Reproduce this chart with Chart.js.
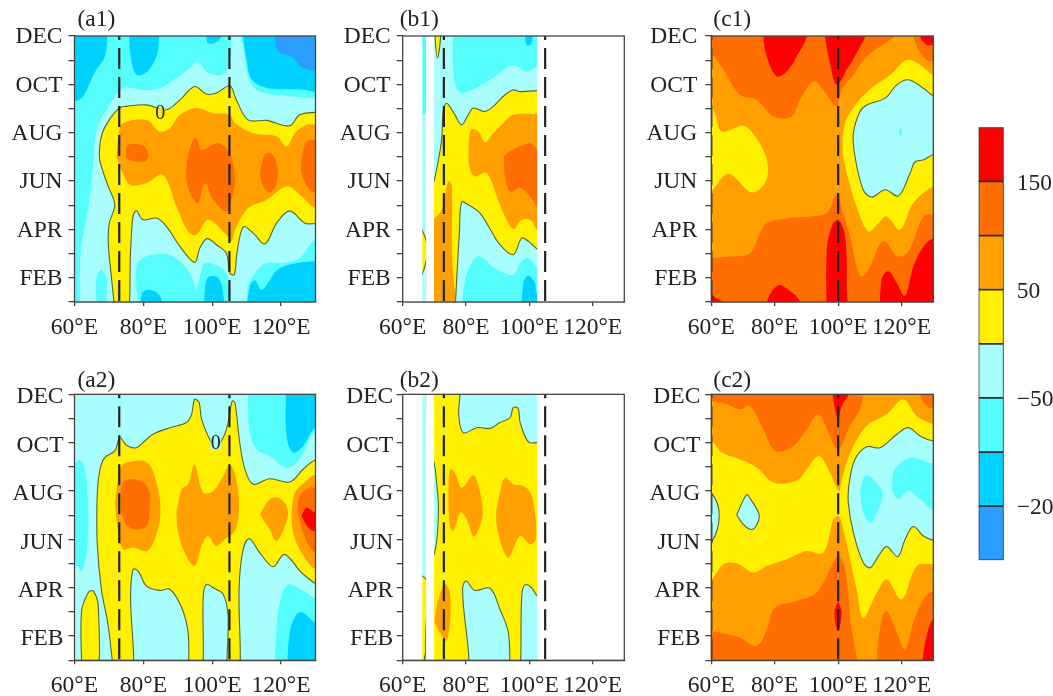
<!DOCTYPE html>
<html>
<head>
<meta charset="utf-8">
<title>Six contour panels</title>
<script src="https://cdn.jsdelivr.net/npm/chart.js@4/dist/chart.umd.min.js"></script>
<style>
    html, body { margin: 0; padding: 0; background: #fff; }
    #page { position: relative; width: 1053px; height: 696px; overflow: hidden; }
    canvas { position: absolute; }
</style>
</head>
<body>
<div id="page"></div>
<script>
// axis values
const monthNames = ['JAN', 'FEB', 'MAR', 'APR', 'MAY', 'JUN', 'JUL', 'AUG', 'SEP', 'OCT', 'NOV', 'DEC']
const shownMonths = ['FEB', 'APR', 'JUN', 'AUG', 'OCT', 'DEC']
const lonTicks = [60, 80, 100, 120]

// lower edge of each contour band, and the colour bar's labelled values
const bandLevels = [-200, -150, -100, -50, 0, 50, 100, 150]
const bandColors = ['#2a9dff', '#00d2ff', '#55fdfd', '#a8fdfd', '#fff000', '#ffa000', '#ff6e00', '#ff0000']
const colorbarLabels = { 150: '150', 50: '50', '-50': '−50', '-150': '−20' }

// contour outlines as [longitude, month], painted in order: [band, outline, isZeroContour]
const a1Base = -100
const a1Layers = [
    [-150, [[55,13],[69.5,13],[69.5,12],[68.8,11.15],[65.9,10.5],[62.5,9.5],[60,9.3],[55,9.3]]],
    [-150, [[75.8,13],[75.9,12],[76.3,11.15],[78,10.4],[80.9,10.5],[83.8,11.15],[84.6,12],[84.6,13]]],
    [-150, [[98.3,13],[98.5,11.75],[100.5,11.7],[102.7,12],[102.8,13]]],
    [-150, [[109,13],[109,12],[110,11],[111.5,10.2],[116,9.85],[125,9.8],[135,9.8],[135,13]]],
    [-200, [[118.2,13],[118.2,12],[119,11.4],[123.5,11.1],[126.4,10.67],[135,10.67],[135,13]]],
    [-150, [[79.4,0],[79.6,1.35],[82,1.5],[85,1.2],[86,0]]],
    [-150, [[97.4,0],[98.1,1.8],[99.3,2.06],[101.7,2],[103,1.5],[103.4,0]]],
    [-150, [[109.5,0],[110.9,1.65],[112.4,1.9],[114.3,1.5],[116.7,1.9],[118.7,2.3],[122.5,2.55],[130,2.68],[135,2.7],[135,0]]],
    [-50, [[61.5,0],[61.8,3.02],[64,4.95],[65.4,6.6],[66.4,8.12],[69.3,8.95],[74.1,9.84],[79.9,9.77],[84.8,9.84],[89.6,10.26],[93.5,10.67],[95.9,10.95],[98.3,10.53],[102.7,10.39],[105.1,10.88],[105.6,12],[105.6,13],[108.5,13],[108.5,12],[109.5,11.15],[110.4,10.33],[112.9,9.77],[118.7,9.57],[130,9.43],[135,9.4],[135,3.6],[130,3.58],[125.4,2.82],[120.6,2.61],[115.8,2.61],[113.3,2.34],[110.4,1.65],[109.5,0],[105.6,0],[105.3,1.65],[103.7,2.27],[100.8,2.54],[97.9,2.61],[96.4,2.06],[95.4,1.51],[94,2.06],[91.1,2.61],[87.2,2.96],[83.3,2.96],[79.9,2.82],[78,2.47],[77.5,0],[69.8,0],[69.3,1.92],[67.8,2.34],[66.4,2.06],[65.9,0]]],
    [0, [[72.2,0],[70.7,2.06],[69.8,3.44],[70.1,4.26],[71.7,5.02],[69.8,5.78],[67.8,6.6],[67.2,7.02],[67.8,7.85],[69.8,8.47],[73,9.02],[75.1,9.09],[80.9,9.15],[86.7,8.95],[90.6,9.36],[94.9,9.91],[98.3,9.6],[101.2,9.64],[105.1,9.94],[107,9.36],[110.4,8.53],[115.8,8.51],[122.5,8.29],[125.4,8.74],[130,8.84],[135,8.85],[135,4.2],[130,4.24],[126.9,4.26],[122.5,4.77],[118.7,4.26],[115.3,3.4],[111.9,3.85],[109,4.1],[107.2,3.02],[106.4,2.13],[105.1,2.2],[104.1,3.02],[101.2,3.37],[98.5,3.62],[96.4,3.23],[94.9,2.64],[90.6,3.3],[86.7,4.13],[83.8,4.47],[79.9,4.4],[78,4.77],[77,4.54],[76.3,3.16],[75.3,0]], true],
    [50, [[72.2,7.02],[73,8.12],[74.1,8.4],[80.9,8.53],[84.8,8.05],[87.7,8.19],[90.6,8.74],[95.4,9.02],[100.3,8.81],[105.1,8.74],[106.6,8.4],[111.9,7.98],[118.7,7.85],[121.6,7.43],[124,7.98],[127.4,8.33],[130,8.33],[135,8.33],[135,4.85],[130,4.88],[125.4,5.44],[121.6,5.78],[115.8,5.23],[110.4,4.88],[106.6,3.99],[105.6,3.51],[104.1,3.78],[98.8,4.4],[95.4,3.78],[93,3.92],[89.6,4.95],[85.7,6.26],[80.9,5.92],[76.1,5.85],[73.6,6.47]]],
    [100, [[74.9,7.02],[75.6,7.5],[79.9,7.46],[81.4,7.09],[80.4,6.81],[75.6,6.88]]],
    [100, [[92.5,6.74],[94,7.57],[95.4,7.78],[96.9,7.29],[101.7,7.57],[105.1,7.16],[106.6,6.05],[105.6,5.23],[104.1,4.75],[100.3,5.23],[97.9,5.92],[95.9,5.09],[94,5.37],[92.5,6.05]]],
    [100, [[113.8,6.33],[115.3,7.09],[117.2,7.16],[118.9,6.6],[118.7,5.92],[116.7,5.53],[114.8,5.78]]],
    [100, [[125.9,6.88],[127.4,7.64],[130,7.7],[135,7.7],[135,5.5],[130,5.5],[127.9,5.71],[125.9,6.33]]]
]

const a2Base = -50
const a2Layers = [
    [-100, [[55,9.1],[60,9.15],[61.5,9.28],[63,8.9],[64,7.1],[63.5,5.45],[62,4.69],[60.6,4.9],[55,4.9]]],
    [-100, [[110.4,13],[110.4,12],[110.9,10.41],[112.9,9.73],[116.7,9.45],[121.6,8.97],[125.4,9.31],[130,10.48],[135,10.5],[135,13]]],
    [-150, [[121.4,13],[121.4,12],[121.6,10.28],[123.5,9.59],[126.4,9.86],[130,10.62],[135,10.6],[135,13]]],
    [-100, [[118.2,0],[118.7,2.42],[120.4,3.8],[122.5,4.14],[130,3.59],[135,3.55],[135,0]]],
    [-150, [[121.6,0],[122.5,2.14],[124.5,2.9],[126.4,2.97],[130,2.56],[135,2.5],[135,0]]],
    [0, [[71.7,0],[69.8,2.42],[67.8,3.94],[66.6,5.87],[66.6,7.8],[67.4,8.9],[68.8,9.38],[71.7,9.66],[73.2,10.21],[75.1,9.89],[78,9.79],[80.4,10.07],[82.8,10.35],[87.7,10.62],[92.5,10.83],[94,11.17],[94.9,11.79],[96.2,11.65],[96.9,10.97],[98.8,10.28],[101,9.8],[103.4,10.28],[104.6,10.83],[105.8,11.72],[106.6,11.65],[108,10],[109.5,8.9],[111.9,8.28],[116.7,8.51],[122.5,8.37],[126.4,8.9],[130,9.28],[135,9.3],[135,3.9],[130,4.18],[125.9,4.63],[121,5.38],[117.7,4.87],[113.8,5.45],[110.7,6.03],[108.8,5.45],[107.8,3.94],[107.8,0],[104.6,0],[104.6,2.83],[103.2,3.73],[100.3,4],[98.3,4.14],[97.4,3.66],[96.9,0],[93.7,0],[93,2.14],[91.1,3.18],[87.7,3.94],[84.8,3.89],[80.9,4.07],[78.5,4.69],[77,4.76],[76.3,3.66],[76.7,0]], true],
    [0, [[62.3,0],[62,2.97],[64,3.8],[65.4,3.87],[66.9,3.25],[66.4,0]], true],
    [50, [[71.7,7.52],[73.2,8.9],[74.6,9.15],[80.9,9.2],[83.8,8.35],[85,7.11],[83.3,6],[80.9,5.52],[77,5.66],[74.1,5.59],[72.7,6.28]]],
    [50, [[89.6,7.11],[91.1,8.07],[93,8.28],[94.9,9.1],[97.4,7.93],[100.3,8],[103.2,8.62],[105.1,9.1],[107,8.48],[107.8,7.24],[106.6,6.35],[104.1,6.07],[101.2,5.73],[98.8,6.14],[96.9,5.73],[94.9,4.9],[92,5.45],[90.1,6.28]]],
    [50, [[113.8,7.04],[116.7,7.66],[119.1,7.73],[121.6,7.38],[121.8,6.83],[118.7,5.93],[116.7,6.42]]],
    [50, [[123,7.11],[124,7.93],[127.4,8.42],[130,8.69],[135,8.7],[135,4.7],[130,4.76],[125.9,5.45],[123.5,6.28]]],
    [100, [[73.4,8.07],[74.6,8.42],[78,8.48],[81.4,8.14],[81.9,7.24],[80.9,6.55],[77,6.42],[74.1,6.83]]],
    [100, [[124.8,7.11],[125.4,7.8],[128.3,8.14],[130,8.14],[135,8.14],[135,5.4],[130,5.45],[126.9,6.07]]],
    [150, [[125.9,6.97],[127.4,7.31],[130,7.1],[135,7],[135,6.3],[130,6.32],[127.9,6.49]]]
]

const b1Base = -50
const b1Layers = [
    [-100, [[64,13],[68,13],[68,8.88],[64,8.88]]],
    [-100, [[75.8,13],[75.8,12],[76,10.6],[77,9.84],[79.2,9.64],[87.6,10.18],[94.9,10.8],[99.2,10.53],[102.5,10.73],[110,10.8],[110,13]]],
    [-150, [[98.6,13],[98.7,12],[99.2,11.63],[100.5,11.65],[101,12],[101,13]]],
    [-100, [[78.1,0],[79.7,1.92],[82.3,2.75],[84.4,2.89],[89.7,2.34],[94.9,2.13],[97.6,2.68],[99.7,2.82],[102.5,2.47],[110,2.4],[110,0]]],
    [-150, [[97.4,0],[98.1,1.79],[99.7,2.09],[101.8,1.79],[102.5,1.37],[110,1.3],[110,0]]],
    [0, [[64,4.5],[66.1,3.99],[67.4,3.55],[68,3.1],[67.4,2.68],[66.1,2.13],[64,1.8]], true],
    [0, [[76.3,0],[77.1,2.06],[77.9,3.85],[78.6,5.13],[80.7,5.02],[84.4,4.68],[87.1,4.13],[90.7,3.37],[94.9,2.96],[97.6,3.64],[99.7,3.51],[102.5,3.19],[106,2.9],[106,9.7],[102.5,9.74],[97.1,9.7],[94.9,9.77],[92.3,9.57],[88.6,9.09],[86,8.88],[82.3,9.02],[80.7,8.74],[78.6,8.33],[76.5,8.74],[73.9,9.22],[72.8,8.88],[72.3,7.71],[70.7,6.47],[69.9,6],[68.7,5.5],[68.7,0]], true],
    [0, [[70.1,13],[70.2,12],[71,11.1],[72,12],[72.1,13]], true],
    [50, [[68.7,4.2],[70.2,4.47],[72.3,4.82],[74.4,5.99],[75.5,5.78],[75.5,3.16],[75.9,0],[68.7,0]]],
    [50, [[80.7,7.02],[81.5,8.12],[83.9,8.05],[86,7.6],[88.6,7.98],[91.8,8.4],[94.9,8.74],[102.5,8.78],[106,8.8],[106,3.8],[102.5,3.99],[100.2,4.4],[97.6,4.4],[94.9,4.02],[91.8,4.68],[89.7,5.37],[86.5,6.33],[82.8,6.19],[81.3,6.47]]],
    [100, [[92,7.02],[93.9,7.23],[100.2,7.57],[102.5,7.3],[106,7.3],[106,4.9],[102.5,4.95],[100.2,5.37],[97.1,5.71],[93.9,5.57],[92.3,6.19]]]
]

const b2Base = -50
const b2Layers = [
    [0, [[64,4.6],[66.2,4.49],[67.4,4.35],[68,4.2],[68,1.5],[67.4,1.39],[66.8,1],[66.6,0],[64,0]], true],
    [0, [[78.1,13],[78.1,12],[77.7,11.1],[79.2,10.41],[83.4,10.62],[87.6,10.59],[90.7,10.83],[93.9,11.03],[94.9,11.45],[96.5,11.41],[97.1,10.83],[99.7,10.03],[102.5,10],[106,10],[106,3.4],[102.5,3.66],[100.7,4],[98.6,4.12],[97.6,3.66],[96.8,0],[94.4,0],[93.4,2.14],[90.7,3.11],[87.6,3.98],[82.8,3.89],[80,4.28],[78.9,3.94],[80,0],[68.7,0],[68.7,5.2],[69.9,5.38],[70.9,6.14],[71.3,7.38],[70.7,8.35],[69.9,9.17],[68.7,9.4],[68.7,13]], true],
    [50, [[70,2.56],[71.1,3.45],[73.4,4.14],[74.9,3.8],[74.9,2.56],[73.7,1.8],[71.8,2.14]]],
    [50, [[74.4,7.66],[74.9,8.9],[76.5,8.76],[78.6,8.14],[82.3,8.65],[84.2,8.07],[85.3,7.11],[84.4,6.55],[82.5,6.11],[80.2,6.83],[78.3,7.11],[76,6.35],[74.9,6.55]]],
    [50, [[89.5,7.11],[90.7,7.93],[92.3,8.55],[94.9,8.28],[98.1,8.21],[100.4,7.93],[101.8,7.11],[102,6],[100.2,5.8],[97.1,6.14],[93.4,5.25],[91.3,5.73],[89.7,6.55]]]
]

// longitude ranges of panels b that hold no data
const bMissing = [[55, 66.2], [67.4, 69.9], [102.5, 135]]

const c1Base = 50
const c1Layers = [
    [100, [[55,11.8],[60,11.29],[63.8,10.6],[69,9.57],[74.3,9.36],[79.6,8.67],[85.3,8.67],[88,9.36],[92.2,10.12],[95.3,9.77],[99.5,9.1],[101.1,9.77],[104.8,10.39],[109,11.15],[116.4,11.84],[119,12.2],[119.5,13],[55,13]]],
    [100, [[123.7,13],[123.7,12],[125.3,11.43],[128,11],[130,10.95],[135,10.9],[135,13]]],
    [150, [[76.4,13],[76.4,12],[77.5,11.15],[80.6,10.33],[83.8,10.53],[86.9,11.15],[90.1,12],[90.1,13]]],
    [150, [[95.9,13],[95.9,12],[97.4,10.88],[99.5,9.98],[102.7,10.6],[106.9,11.56],[108.5,12],[108.5,13]]],
    [150, [[125.6,13],[125.8,12],[127.9,11.63],[130,11.63],[135,11.6],[135,13]]],
    [0, [[55,5],[60,5.57],[65.4,6.3],[72.7,5.53],[77.2,5.99],[77.5,6.88],[73.8,7.85],[70.1,8.29],[63.3,8.05],[61.2,8.74],[60,9.09],[55,9.4]]],
    [0, [[135,10.4],[130,10.39],[125.8,10.81],[121.6,11.01],[116.4,10.39],[111.1,9.91],[105.8,9.22],[102.2,8.4],[101.4,7.3],[102.7,6.33],[105.8,4.95],[109.5,3.92],[112.7,4.26],[115.3,4.54],[119.5,3.99],[123.7,5.09],[130,5.78],[135,5.8]]],
    [-50, [[135,9.4],[130,9.53],[126.9,9.84],[122.1,10.19],[118.5,9.98],[114.8,9.43],[109,9.15],[106.9,8.88],[104.8,7.98],[105.3,7.02],[107.9,5.64],[110.6,5.34],[114.8,5.64],[119,5.39],[122.7,6.33],[124.2,6.79],[126.9,6.88],[130,7.09],[135,7.1]], true],
    [-100, [[119.2,8.05],[119.7,8.2],[120.2,8.05],[119.7,7.85]]],
    [100, [[55,2.8],[60,2.82],[66.9,2.89],[72.2,3.02],[75.4,3.85],[77.5,4.26],[84.8,4.47],[91.1,4.54],[96.4,4.68],[99.5,5.44],[101.6,4.68],[104,3.58],[105.8,2.47],[107.4,2.06],[110.1,2.47],[112.7,3.3],[114.8,3.51],[118.5,2.89],[122.1,3.09],[126.9,4.54],[130,4.61],[135,4.6],[135,0],[55,0]]],
    [150, [[55,1.3],[60,1.3],[61.5,1.15],[63.3,1],[63.5,0],[55,0]]],
    [150, [[77.5,0],[77.5,1],[81.1,1.69],[84.3,1.51],[88,1],[88,0]]],
    [150, [[96.4,0],[96.4,3.16],[98,4.13],[100.1,4.4],[102.2,3.71],[102.7,1.79],[102.2,0]]],
    [150, [[113,0],[113.7,1.92],[115.8,2.27],[118.5,1.79],[121.1,1.26],[123.7,2.47],[126.9,3.3],[130,3.64],[135,3.7],[135,0]]]
]

const c2Base = 50
const c2Layers = [
    [0, [[55,10.1],[60,10.07],[63.3,9.59],[69,9.31],[74.3,8.97],[79.6,8.35],[86.9,8.42],[90.1,8.9],[93.8,9.45],[96.4,9.04],[99.5,8.14],[100.4,8],[101.4,8.62],[104.3,9.72],[109,10.69],[115.3,11.17],[120.6,11.79],[124.8,11.1],[130,10.76],[135,10.7],[135,5],[130,4.97],[124.8,4.9],[120,3.52],[115.3,4.35],[112.2,3.8],[107.9,2.76],[105.8,3.94],[101.6,6.42],[100.1,6.97],[98.5,6.83],[95.3,5.45],[90.1,5.52],[83.8,5.18],[77.5,4.9],[73.2,4.63],[68,5.01],[63.8,4.97],[60,4.35],[55,4.2]]],
    [100, [[55,11.7],[60,11.72],[64.8,11.59],[69,11.38],[72.2,11.52],[76.4,10.55],[80.1,9.66],[85.9,9.86],[90.1,10.55],[93.8,11.17],[97.4,10.28],[100,9.72],[103.7,10.69],[106.9,11.38],[107.9,12.2],[108,13],[55,13]]],
    [100, [[125.8,13],[125.8,12],[127.9,11.5],[130,11.42],[135,11.4],[135,13]]],
    [150, [[98.3,13],[98.3,12],[99,11.38],[100,10.97],[101.1,11.52],[103.2,12],[103.2,13]]],
    [-50, [[135,10.05],[130,10.07],[125.8,10.28],[122.1,10.62],[118.5,10.35],[113.2,9.79],[109,9.83],[105.3,9.31],[103.5,8.35],[103.2,7.52],[104.8,6.28],[107.9,5.04],[110.1,4.83],[112.7,5.31],[115.3,5.7],[118.8,5.29],[121.1,6],[123.7,6.53],[126.9,6.14],[130,5.96],[135,5.9]], true],
    [-100, [[106.9,7.93],[108.5,8.62],[111.1,8.48],[114,7.93],[112.2,7.11],[110.1,6.69],[107.9,7.11]]],
    [-100, [[116.9,8.07],[117.9,8.9],[122.7,9.38],[129,9.17],[135,9.1],[135,7.2],[130,7.22],[125.8,7.66],[122.1,8],[118.9,7.66]]],
    [-50, [[68,7.01],[71.1,7.84],[72.4,7.66],[75.1,7],[73.8,6.49],[72.2,6.42],[70.1,6.62]], true],
    [-50, [[55,8.2],[60,7.93],[62.5,7],[60,5.87],[55,5.5]], true],
    [100, [[55,2.2],[60,2.21],[64.8,2.08],[69,1.94],[74.3,1.59],[77.5,2.28],[80.1,3.18],[86.9,3.45],[93.2,3.8],[98.5,5.04],[100.1,5.31],[102.2,4.76],[103.7,2.83],[103.8,0],[55,0]]],
    [100, [[112,0],[112.1,1],[113.7,2.7],[115.3,3.04],[118.5,2.14],[121.1,1.45],[123.7,2.56],[126.9,3.52],[130,3.87],[135,3.9],[135,0]]],
    [150, [[126.1,0],[126.6,1],[127.9,2.01],[130,2.7],[135,2.8],[135,0]]],
    [150, [[100,3.45],[101.1,2.97],[100,2.21],[98.8,2.97]]]
]

// where the "0" contour labels sit: [longitude, month, band behind the label]
const a1ZeroLabels = [[84.9, 8.8, 0]]
const a2ZeroLabels = [[101, 9.95, -50]]

// reference longitudes marked with dashed lines
const abDashes = [73, 105]
const cDashes = [60, 100]

const serif = '"Liberation Serif", "Times New Roman", serif'
const textColor = '#222'
const frameColor = '#444'
const contourColor = '#5b6333'
const tickFontSize = 23.5

function bandColor(level) {
    return bandColors[bandLevels.indexOf(level)]
}

function toPoints(pairs) {
    return pairs.map(p => ({ x: p[0], y: p[1] }))
}

function layerDataset(layer) {
    const zero = layer[2] === true
    return {
        data: toPoints(layer[1].concat([layer[1][0]])),
        showLine: true,
        polygon: true,
        backgroundColor: bandColor(layer[0]),
        borderColor: contourColor,
        borderWidth: zero ? 1.1 : 0,
        tension: 0.35,
        capBezierPoints: false,
        pointRadius: 0,
        clip: 0
    }
}

function missingDataset(range) {
    const pairs = [[range[0], 0], [range[1], 0], [range[1], 13], [range[0], 13], [range[0], 0]]
    return {
        data: toPoints(pairs),
        showLine: true,
        polygon: true,
        backgroundColor: '#fff',
        borderWidth: 0,
        tension: 0,
        pointRadius: 0,
        clip: 0
    }
}

function dashDataset(lon) {
    return {
        data: toPoints([[lon, 12], [lon, 1]]),
        showLine: true,
        borderColor: '#222',
        borderWidth: 2.2,
        borderDash: [21, 8],
        borderDashOffset: 17,
        tension: 0,
        pointRadius: 0,
        clip: 0
    }
}

// fills every outline with the line element's own path, and adds frame and labels
const contourPlugin = {
    id: 'contourPlugin',
    beforeDatasetsDraw(chart, args, opts) {
        const a = chart.chartArea
        chart.ctx.fillStyle = bandColor(opts.base)
        chart.ctx.fillRect(a.left, a.top, a.width, a.height)
    },
    beforeDatasetDraw(chart, args) {
        if (!chart.data.datasets[args.index].polygon) return
        const a = chart.chartArea
        const line = args.meta.dataset
        const ctx = chart.ctx
        line.updateControlPoints(a, 'x')
        ctx.save()
        ctx.beginPath()
        ctx.rect(a.left, a.top, a.width, a.height)
        ctx.clip()
        ctx.beginPath()
        line.path(ctx)
        ctx.closePath()
        ctx.fillStyle = chart.data.datasets[args.index].backgroundColor
        ctx.fill()
        ctx.restore()
    },
    afterDraw(chart, args, opts) {
        const a = chart.chartArea
        const ctx = chart.ctx
        ctx.save()
        ctx.strokeStyle = frameColor
        ctx.lineWidth = 1.3
        ctx.strokeRect(a.left, a.top, a.width, a.height)
        ctx.fillStyle = textColor
        ctx.textBaseline = 'alphabetic'
        ctx.textAlign = 'left'
        ctx.font = '23.5px ' + serif
        ctx.fillText(opts.title, a.left + opts.titleX, a.top + opts.titleY)
        ctx.font = '20px ' + serif
        ctx.textAlign = 'center'
        ctx.textBaseline = 'middle'
        opts.zeroLabels.forEach(p => {
            const px = chart.scales.x.getPixelForValue(p[0])
            const py = chart.scales.y.getPixelForValue(p[1])
            ctx.fillStyle = bandColor(p[2])
            ctx.fillRect(px - 5, py - 5, 10, 10)
            ctx.fillStyle = textColor
            ctx.fillText('0', px, py)
        })
        ctx.restore()
    }
}

function drawPanel(p) {
    const canvas = document.createElement('canvas')
    canvas.width = p.canvas[2]
    canvas.height = p.canvas[3]
    canvas.style.left = p.canvas[0] + 'px'
    canvas.style.top = p.canvas[1] + 'px'
    document.getElementById('page').appendChild(canvas)

    const datasets = p.layers.map(layerDataset)
    if (p.missing) p.missing.forEach(r => datasets.push(missingDataset(r)))
    p.dashes.forEach(lon => datasets.push(dashDataset(lon)))
    // chart.js paints the last dataset first
    datasets.reverse()

    new Chart(canvas, {
        type: 'scatter',
        data: { datasets },
        plugins: [contourPlugin],
        options: {
            responsive: false,
            animation: false,
            layout: {
                padding: {
                    top: p.plot[2] - p.canvas[1],
                    right: p.canvas[0] + p.canvas[2] - p.plot[1],
                    left: 0,
                    bottom: 0
                }
            },
            plugins: {
                legend: { display: false },
                tooltip: { enabled: false },
                contourPlugin: {
                    base: p.base,
                    title: p.title,
                    titleX: p.titleX,
                    titleY: p.titleY,
                    zeroLabels: p.zeroLabels || []
                }
            },
            scales: {
                x: {
                    type: 'linear',
                    min: 60,
                    max: 130,
                    afterFit: s => { s.height = p.canvas[1] + p.canvas[3] - p.plot[3] },
                    afterBuildTicks: s => { s.ticks = lonTicks.map(v => ({ value: v })) },
                    border: { display: true, color: frameColor, width: 1.3 },
                    grid: { drawOnChartArea: false, drawTicks: true, tickLength: 4, color: frameColor, lineWidth: 1.3 },
                    ticks: {
                        autoSkip: false,
                        maxRotation: 0,
                        padding: 7.5,
                        color: textColor,
                        font: { family: serif, size: tickFontSize },
                        callback: v => v + '°E'
                    }
                },
                y: {
                    type: 'linear',
                    min: 1,
                    max: 12,
                    afterFit: s => { s.width = p.plot[0] - p.canvas[0] },
                    afterBuildTicks: s => { s.ticks = monthNames.map((m, i) => ({ value: i + 1 })) },
                    border: { display: true, color: frameColor, width: 1.3 },
                    grid: { drawOnChartArea: false, drawTicks: true, tickLength: 6, color: frameColor, lineWidth: 1.3 },
                    ticks: {
                        autoSkip: false,
                        padding: p.labelGap,
                        color: textColor,
                        // blank first line: half the small line height moves the label down
                        font: { family: serif, size: tickFontSize, lineHeight: p.labelDrop * 2 + 'px' },
                        callback: v => shownMonths.includes(monthNames[v - 1]) ? ['', monthNames[v - 1]] : ''
                    }
                }
            }
        }
    })
}

function drawColorbar() {
    const canvas = document.createElement('canvas')
    canvas.width = 93
    canvas.height = 490
    canvas.style.left = '960px'
    canvas.style.top = '100px'
    document.getElementById('page').appendChild(canvas)

    new Chart(canvas, {
        type: 'bar',
        data: {
            labels: [''],
            datasets: bandLevels.map((lo, i) => ({
                data: [[lo, lo + 50]],
                backgroundColor: bandColors[i],
                borderColor: '#263238',
                borderWidth: 1.2,
                borderSkipped: false,
                barPercentage: 1,
                categoryPercentage: 1,
                grouped: false
            }))
        },
        options: {
            responsive: false,
            animation: false,
            layout: { padding: { left: 18.5, top: 27.3, bottom: 29.7, right: 0 } },
            plugins: { legend: { display: false }, tooltip: { enabled: false } },
            scales: {
                x: { display: false },
                y: {
                    position: 'right',
                    min: -200,
                    max: 200,
                    afterFit: s => { s.width = 49.3 },
                    border: { display: false },
                    grid: { display: false, drawTicks: false },
                    ticks: {
                        stepSize: 50,
                        autoSkip: false,
                        padding: 13,
                        color: textColor,
                        font: { family: serif, size: tickFontSize, lineHeight: '4px' },
                        callback: v => colorbarLabels[v] ? ['', colorbarLabels[v]] : ''
                    }
                }
            }
        }
    })
}

document.addEventListener('DOMContentLoaded', () => {
    drawPanel({ title: '(a1)', layers: a1Layers, base: a1Base, dashes: abDashes, zeroLabels: a1ZeroLabels,
        canvas: [0, 0, 340, 345], plot: [74.5, 315.5, 36, 302], labelGap: 6, labelDrop: 1, titleX: 3, titleY: -10 })
    drawPanel({ title: '(b1)', layers: b1Layers, base: b1Base, dashes: abDashes, missing: bMissing,
        canvas: [340, 0, 300, 345], plot: [402.7, 624.3, 36, 302], labelGap: 6, labelDrop: 1, titleX: -3, titleY: -10 })
    drawPanel({ title: '(c1)', layers: c1Layers, base: c1Base, dashes: cDashes,
        canvas: [640, 0, 320, 345], plot: [711.3, 933.3, 36, 302], labelGap: 8, labelDrop: 1, titleX: 2, titleY: -10 })
    drawPanel({ title: '(a2)', layers: a2Layers, base: a2Base, dashes: abDashes, zeroLabels: a2ZeroLabels,
        canvas: [0, 345, 340, 351], plot: [74.5, 315.5, 394.3, 660.3], labelGap: 5, labelDrop: 3, titleX: 3, titleY: -7 })
    drawPanel({ title: '(b2)', layers: b2Layers, base: b2Base, dashes: abDashes, missing: bMissing,
        canvas: [340, 345, 300, 351], plot: [402.7, 624.3, 394.3, 660.3], labelGap: 3.5, labelDrop: 3, titleX: -3, titleY: -7 })
    drawPanel({ title: '(c2)', layers: c2Layers, base: c2Base, dashes: cDashes,
        canvas: [640, 345, 320, 351], plot: [711.3, 933.3, 394.3, 660.3], labelGap: 5, labelDrop: 3, titleX: 2, titleY: -7 })
    drawColorbar()
})
</script>
</body>
</html>
